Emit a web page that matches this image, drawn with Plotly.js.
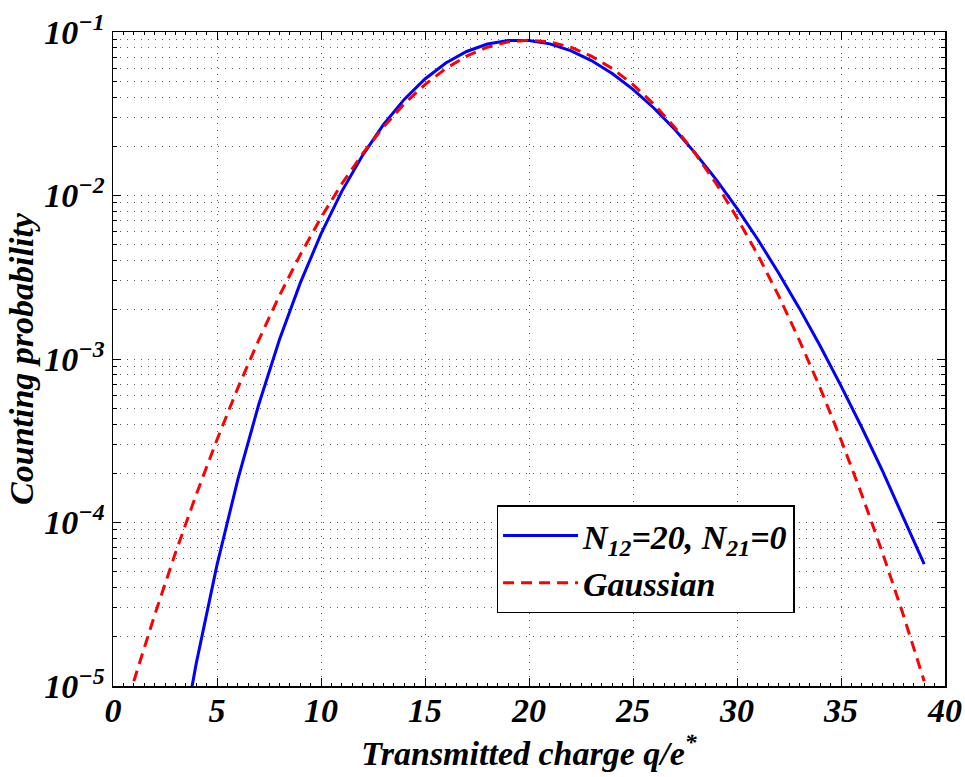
<!DOCTYPE html>
<html>
<head>
<meta charset="utf-8">
<script src="https://cdn.plot.ly/plotly-3.0.1.min.js"></script>
<style>
  html, body { margin: 0; padding: 0; background: #fff; }
  #chart { width: 965px; height: 777px; }
</style>
</head>
<body>
<div id="chart"></div>
<script>
// ---- data ----
const qBlue = [3, 4, 5, 6, 7, 8, 9, 10, 11, 12, 13, 14, 15, 16, 17, 18, 19, 20, 21,
               22, 23, 24, 25, 26, 27, 28, 29, 30, 31, 32, 33, 34, 35, 36, 37, 38, 39];
const pBlue = [2.75e-6, 1.37e-5, 5.5e-5, 1.83e-4, 5.23e-4, 1.31e-3, 2.91e-3, 5.82e-3,
               1.06e-2, 1.76e-2, 2.71e-2, 3.87e-2, 5.16e-2, 6.46e-2, 7.60e-2, 8.44e-2,
               8.88e-2, 8.88e-2, 8.46e-2, 7.69e-2, 6.69e-2, 5.57e-2, 4.46e-2, 3.43e-2,
               2.54e-2, 1.81e-2, 1.25e-2, 8.34e-3, 5.38e-3, 3.36e-3, 2.04e-3, 1.20e-3,
               6.85e-4, 3.81e-4, 2.06e-4, 1.08e-4, 5.56e-5];

const qRed = [1, 2, 3, 4, 5, 6, 7, 8, 9, 10, 11, 12, 13, 14, 15, 16, 17, 18, 19, 20,
              21, 22, 23, 24, 25, 26, 27, 28, 29, 30, 31, 32, 33, 34, 35, 36, 37, 38, 39];
const pRed = [1.07e-5, 2.71e-5, 6.5e-5, 1.48e-4, 3.21e-4, 6.64e-4, 1.30e-3, 2.44e-3,
              4.33e-3, 7.32e-3, 1.18e-2, 1.80e-2, 2.62e-2, 3.63e-2, 4.77e-2, 5.98e-2,
              7.12e-2, 8.07e-2, 8.70e-2, 8.92e-2, 8.70e-2, 8.07e-2, 7.12e-2, 5.98e-2,
              4.77e-2, 3.63e-2, 2.62e-2, 1.80e-2, 1.18e-2, 7.32e-3, 4.33e-3, 2.44e-3,
              1.30e-3, 6.64e-4, 3.21e-4, 1.48e-4, 6.5e-5, 2.71e-5, 1.07e-5];

const seriesNames = ["N<sub>12</sub>=20, N<sub>21</sub>=0", "Gaussian"];

const yTickVals = [1e-5, 1e-4, 1e-3, 1e-2, 1e-1];
const yTickText = ["10<sup>\u22125</sup>", "10<sup>\u22124</sup>", "10<sup>\u22123</sup>",
                   "10<sup>\u22122</sup>", "10<sup>\u22121</sup>"];
const xTickVals = [0, 5, 10, 15, 20, 25, 30, 35, 40];
const xTickText = ["0", "5", "10", "15", "20", "25", "30", "35", "40"];

const xTitle = "Transmitted charge q/e<sup>*</sup>";
const yTitle = "Counting probability";

// minor log grid positions (2..9 x 10^k)
const yMinor = [];
for (let k = -5; k < -1; k++) {
  for (let m = 2; m <= 9; m++) yMinor.push(m * Math.pow(10, k));
}

const font = {family: "Liberation Serif, Times New Roman, serif", size: 34,
              color: "#000", weight: "bold", style: "italic"};
const gridDash = "1px,6px";
const gridColor = "#5a5a5a";

const traces = [
  {x: qBlue, y: pBlue, type: "scatter", mode: "lines", name: seriesNames[0],
   line: {color: "#0000ff", width: 3}},
  {x: qRed, y: pRed, type: "scatter", mode: "lines", name: seriesNames[1],
   line: {color: "#ff0000", width: 3, dash: "11px,7px"}}
];

const layout = {
  width: 965, height: 777,
  margin: {l: 113, r: 20, t: 32, b: 91, pad: 0},
  paper_bgcolor: "#fff", plot_bgcolor: "#fff",
  font: font,
  showlegend: true,
  legend: {
    x: 0.461, y: 0.276, xanchor: "left", yanchor: "top",
    bgcolor: "#fff", bordercolor: "#000", borderwidth: 1.5,
    font: font, itemwidth: 75, tracegroupgap: 0
  },
  xaxis: {
    range: [0, 40], autorange: false,
    tickmode: "array", tickvals: xTickVals, ticktext: xTickText,
    ticks: "inside", ticklen: 8, tickwidth: 1, tickcolor: "#000",
    showline: true, linecolor: "#000", linewidth: 1.5, mirror: "ticks",
    showgrid: true, gridcolor: gridColor, gridwidth: 1, griddash: gridDash,
    zeroline: false,
    tickfont: font,
    ticklabelstandoff: -6,
    minor: {dtick: 0.5, ticks: "inside", ticklen: 3, tickcolor: "#000", showgrid: false},
    title: {text: xTitle, font: font, standoff: 10},
    automargin: false
  },
  yaxis: {
    type: "log", range: [-5, -1], autorange: false,
    tickmode: "array", tickvals: yTickVals, ticktext: yTickText,
    ticks: "inside", ticklen: 8, tickwidth: 1, tickcolor: "#000",
    showline: true, linecolor: "#000", linewidth: 1.5, mirror: "ticks",
    showgrid: true, gridcolor: gridColor, gridwidth: 1, griddash: gridDash,
    zeroline: false,
    tickfont: font,
    minor: {tickmode: "array", tickvals: yMinor, ticks: "inside", ticklen: 4,
            tickcolor: "#000", showgrid: true, gridcolor: gridColor,
            gridwidth: 1, griddash: gridDash},
    title: {text: yTitle, font: font, standoff: 0},
    automargin: false
  }
};

Plotly.newPlot("chart", traces, layout, {staticPlot: true, displayModeBar: false});
</script>
</body>
</html>
